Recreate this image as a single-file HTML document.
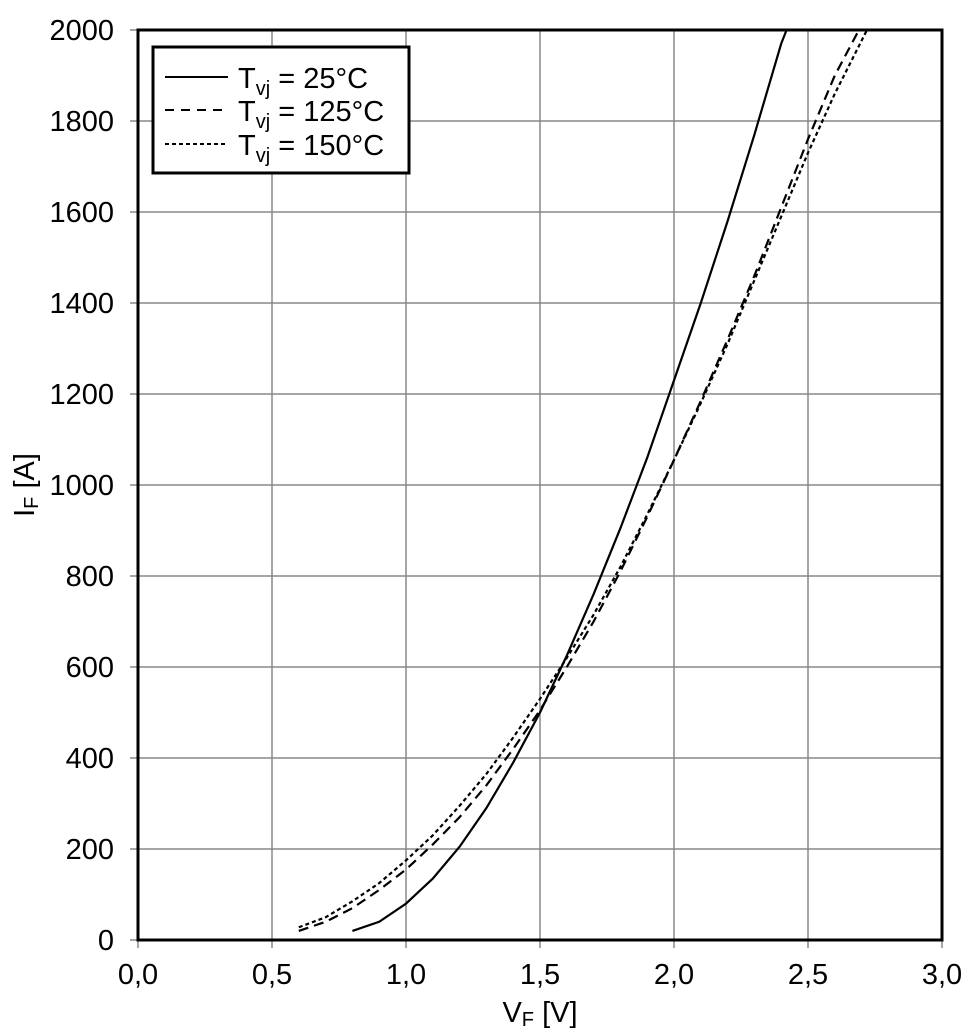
<!DOCTYPE html>
<html><head><meta charset="utf-8"><style>body{margin:0;background:#fff}svg{display:block;font-family:"Liberation Sans",sans-serif}</style></head>
<body>
<svg id="chart" width="962" height="1034">
<g id="grid"></g><g id="series"></g><g id="ticks"></g>
<rect x="138" y="30" width="804" height="910" fill="none" stroke="#000" stroke-width="3"/>
<g>
<rect x="153" y="47" width="256" height="126" fill="#fff" stroke="#000" stroke-width="3"/>
<line x1="165" y1="77" x2="228" y2="77" stroke="#000" stroke-width="2"/>
<line x1="165" y1="110" x2="228" y2="110" stroke="#000" stroke-width="2" stroke-dasharray="9,7"/>
<line x1="165" y1="144" x2="228" y2="144" stroke="#000" stroke-width="2" stroke-dasharray="4,3"/>
<text x="238" y="88" font-size="29">T<tspan font-size="20" dy="7">vj</tspan><tspan dy="-7"> = 25°C</tspan></text>
<text x="238" y="121" font-size="29">T<tspan font-size="20" dy="7">vj</tspan><tspan dy="-7"> = 125°C</tspan></text>
<text x="238" y="155" font-size="29">T<tspan font-size="20" dy="7">vj</tspan><tspan dy="-7"> = 150°C</tspan></text>
</g>
<text x="540" y="1022" font-size="29" text-anchor="middle">V<tspan font-size="20" dy="4">F</tspan><tspan dy="-4"> [V]</tspan></text>
<text transform="translate(34,485) rotate(-90)" font-size="29" text-anchor="middle">I<tspan font-size="20" dy="4">F</tspan><tspan dy="-4"> [A]</tspan></text>
</svg>
<script>
const xTicks=[0,0.5,1.0,1.5,2.0,2.5,3.0];
const xTickLabels=["0,0","0,5","1,0","1,5","2,0","2,5","3,0"];
const yTicks=[0,200,400,600,800,1000,1200,1400,1600,1800,2000];
const v25=[0.8,0.9,1.0,1.1,1.2,1.3,1.4,1.5,1.6,1.7,1.8,1.9,2.0,2.1,2.2,2.3,2.4,2.42];
const i25=[20,40,80,135,205,290,390,500,625,760,905,1060,1230,1400,1580,1770,1970,2000];
const v125=[0.6,0.7,0.8,0.9,1.0,1.1,1.2,1.3,1.4,1.5,1.6,1.7,1.8,1.9,2.0,2.1,2.2,2.3,2.4,2.5,2.6,2.69];
const i125=[20,40,70,110,155,210,270,340,420,505,600,700,810,930,1055,1185,1320,1460,1610,1760,1900,2000];
const v150=[0.6,0.7,0.8,0.9,1.0,1.1,1.2,1.3,1.4,1.5,1.6,1.7,1.8,1.9,2.0,2.1,2.2,2.3,2.4,2.5,2.6,2.72];
const i150=[28,50,85,125,175,230,295,365,445,530,620,715,820,935,1055,1180,1310,1450,1590,1730,1860,2000];
const NS="http://www.w3.org/2000/svg";
const X=v=>138+v*268, Y=a=>940-a*0.455;
function mk(t,p,a){const e=document.createElementNS(NS,t);for(const k in a)e.setAttribute(k,a[k]);p.appendChild(e);return e;}
const grid=document.getElementById('grid'),ticks=document.getElementById('ticks'),ser=document.getElementById('series');
xTicks.forEach((v,i)=>{
 const l=mk('line',grid,{x1:X(v),x2:X(v),y1:30,y2:948,stroke:'#888','stroke-width':1.5});
 
 
 const t=mk('text',ticks,{x:X(v),y:984,'font-size':29,'text-anchor':'middle'});t.textContent=xTickLabels[i];
 
 
});
yTicks.forEach(a=>{
 const l=mk('line',grid,{x1:130,x2:942,y1:Y(a),y2:Y(a),stroke:'#888','stroke-width':1.5});
 
 
 const t=mk('text',ticks,{x:114,y:Y(a)+10,'font-size':29,'text-anchor':'end'});t.textContent=a;
 
 
});
function line(vs,is,dash,name){
 const p=mk('polyline',ser,{points:vs.map((v,i)=>X(v)+','+Y(is[i])).join(' '),fill:'none',stroke:'#000','stroke-width':2.2});
 if(dash)p.setAttribute('stroke-dasharray',dash);
 
 
}
line(v25,i25,null,'curve-25c');
line(v125,i125,'10,6','curve-125c');
line(v150,i150,'4,3','curve-150c');
</script>
</body></html>
